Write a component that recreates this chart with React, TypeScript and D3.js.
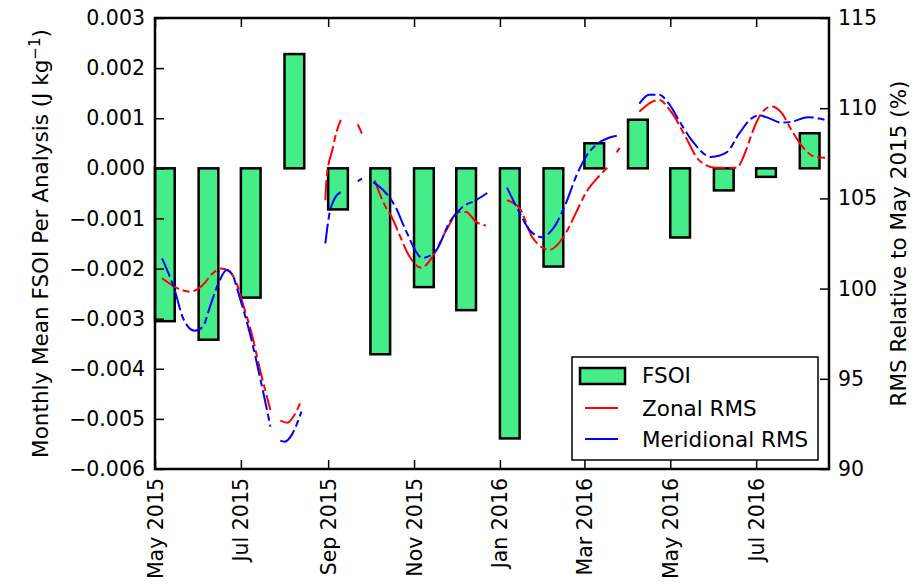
import * as d3 from 'd3';
import { useEffect, useRef } from 'react';

const MONTHS = [
    '2015-05', '2015-06', '2015-07', '2015-08', '2015-09', '2015-10', '2015-11', '2015-12',
    '2016-01', '2016-02', '2016-03', '2016-04', '2016-05', '2016-06', '2016-07', '2016-08',
];

const FSOI = [
    -0.00305, -0.00342, -0.00258, 0.00228, -0.00082, -0.00371, -0.00237, -0.00283,
    -0.00539, -0.00196, 0.0005, 0.00097, -0.00138, -0.00044, -0.00017, 0.0007,
];

// [date, RMS %]; null breaks the line where data is missing
const ZONAL_RMS: ([string, number] | null)[] = [
    ['2015-05-06', 100.57], ['2015-05-20', 99.92], ['2015-05-26', 99.83], ['2015-06-04', 100.2],
    ['2015-06-11', 100.85], ['2015-06-17', 101.12], ['2015-06-23', 100.94], ['2015-06-28', 100.29],
    ['2015-07-03', 99.0], ['2015-07-08', 97.71], ['2015-07-15', 95.38], ['2015-07-22', 93.27],
    null,
    ['2015-07-29', 92.68], ['2015-08-03', 92.57], ['2015-08-08', 92.99], ['2015-08-13', 93.82],
    null,
    ['2015-08-30', 104.9], ['2015-08-31', 106.2], ['2015-09-04', 107.7], ['2015-09-07', 108.7],
    ['2015-09-10', 109.35],
    null,
    ['2015-09-22', 109.1], ['2015-09-25', 108.6],
    null,
    ['2015-10-04', 106.0], ['2015-10-12', 104.5], ['2015-10-16', 104.0], ['2015-10-21', 103.1],
    ['2015-10-29', 101.75], ['2015-11-06', 101.15], ['2015-11-14', 101.75], ['2015-11-24', 103.25],
    ['2015-12-03', 104.25], ['2015-12-08', 104.25], ['2015-12-15', 103.7], ['2015-12-22', 103.5],
    null,
    ['2016-01-06', 104.9], ['2016-01-15', 104.45], ['2016-01-24', 102.85], ['2016-02-05', 102.15],
    ['2016-02-17', 103.1], ['2016-02-24', 104.2], ['2016-03-02', 105.3], ['2016-03-11', 106.2],
    ['2016-03-18', 106.75],
    null,
    ['2016-03-24', 107.55], ['2016-03-26', 107.8],
    null,
    ['2016-04-09', 109.8], ['2016-04-18', 110.35], ['2016-04-23', 110.45], ['2016-05-02', 109.75],
    ['2016-05-12', 108.4], ['2016-05-21', 107.15], ['2016-06-02', 106.7], ['2016-06-17', 106.7],
    ['2016-06-24', 107.7], ['2016-06-28', 108.6], ['2016-07-03', 109.5], ['2016-07-12', 110.1],
    ['2016-07-19', 109.75], ['2016-07-26', 108.8], ['2016-08-02', 107.95], ['2016-08-12', 107.3],
    ['2016-08-19', 107.25],
];

const MERIDIONAL_RMS: ([string, number] | null)[] = [
    ['2015-05-06', 101.68], ['2015-05-15', 99.92], ['2015-05-21', 98.35], ['2015-05-29', 97.67],
    ['2015-06-04', 97.89], ['2015-06-09', 98.99], ['2015-06-15', 100.29], ['2015-06-21', 101.03],
    ['2015-06-25', 100.75], ['2015-06-30', 99.55], ['2015-07-08', 97.33], ['2015-07-15', 94.93],
    ['2015-07-22', 92.35],
    null,
    ['2015-07-29', 91.57], ['2015-08-01', 91.51], ['2015-08-06', 91.88], ['2015-08-13', 93.18],
    null,
    ['2015-08-30', 102.5], ['2015-09-02', 104.2], ['2015-09-05', 104.9], ['2015-09-10', 105.35],
    null,
    ['2015-09-22', 105.95], ['2015-09-25', 106.1],
    null,
    ['2015-10-03', 105.9], ['2015-10-12', 105.3], ['2015-10-19', 104.5], ['2015-10-26', 103.25],
    ['2015-11-07', 101.7], ['2015-11-17', 102.15], ['2015-11-26', 103.65], ['2015-12-05', 104.5],
    ['2015-12-15', 104.9], ['2015-12-23', 105.3],
    null,
    ['2016-01-06', 105.6], ['2016-01-15', 104.2], ['2016-01-22', 103.25], ['2016-01-31', 102.85],
    ['2016-02-07', 103.25], ['2016-02-17', 104.75], ['2016-02-24', 106.2], ['2016-03-02', 107.3],
    ['2016-03-09', 107.95], ['2016-03-18', 108.35], ['2016-03-26', 108.5],
    null,
    ['2016-04-09', 110.25], ['2016-04-16', 110.75], ['2016-04-23', 110.75], ['2016-04-30', 110.25],
    ['2016-05-07', 109.35], ['2016-05-16', 108.25], ['2016-05-30', 107.3], ['2016-06-10', 107.55],
    ['2016-06-19', 108.6], ['2016-06-28', 109.45], ['2016-07-03', 109.6], ['2016-07-10', 109.45],
    ['2016-07-19', 109.2], ['2016-07-26', 109.25], ['2016-08-07', 109.5], ['2016-08-19', 109.35],
];

const LEFT_TICKS = [-0.006, -0.005, -0.004, -0.003, -0.002, -0.001, 0, 0.001, 0.002, 0.003];
const RIGHT_TICKS = [90, 95, 100, 105, 110, 115];
const X_TICKS = ['2015-05-01', '2015-07-01', '2015-09-01', '2015-11-01', '2016-01-01', '2016-03-01', '2016-05-01', '2016-07-01'];

const FONT = 'DejaVu Sans, Verdana, sans-serif';
const BAR_FILL = '#45ed89';

export default function App() {
    const svgRef = useRef(null);

    useEffect(() => {
        const svg = d3.select(svgRef.current);
        svg.selectAll('*').remove();

        const W = 917;
        const H = 586;
        const m = { left: 155, right: 829, top: 18, bottom: 469 };
        const parse = d3.timeParse('%Y-%m-%d');

        const x = d3
            .scaleTime()
            .domain([new Date(2015, 4, 1), new Date(2016, 7, 21, 18)])
            .range([m.left, m.right]);
        const yL = d3.scaleLinear().domain([-0.006, 0.003]).range([m.bottom, m.top]);
        const yR = d3.scaleLinear().domain([90, 115]).range([m.bottom, m.top]);

        svg.attr('width', W).attr('height', H).attr('font-family', FONT);

        // bars
        const bars = svg.append('g');
        MONTHS.forEach((mo, i) => {
            const d0 = parse(mo + '-01');
            const v = FSOI[i];
            bars.append('rect')
                .attr('x', x(d0))
                .attr('width', x(d3.timeDay.offset(d0, 14)) - x(d0))
                .attr('y', yL(Math.max(0, v)))
                .attr('height', Math.abs(yL(v) - yL(0)))
                .attr('fill', BAR_FILL)
                .attr('stroke', '#000')
                .attr('stroke-width', 2.5);
        });

        // RMS lines
        const line = d3
            .line<[string, number] | null>()
            .defined((d) => d !== null)
            .x((d) => x(parse(d![0])))
            .y((d) => yR(d![1]))
            .curve(d3.curveMonotoneX);

        const clip = svg.append('clipPath').attr('id', 'plot-clip');
        clip.append('rect').attr('x', m.left).attr('y', m.top).attr('width', m.right - m.left).attr('height', m.bottom - m.top);

        const lines = svg.append('g').attr('clip-path', 'url(#plot-clip)');
        lines.append('path')
            .attr('d', line(ZONAL_RMS))
            .attr('fill', 'none')
            .attr('stroke', '#ff0000')
            .attr('stroke-width', 2)
            .attr('stroke-dasharray', '20,4,7,4');
        lines.append('path')
            .attr('d', line(MERIDIONAL_RMS))
            .attr('fill', 'none')
            .attr('stroke', '#0000ff')
            .attr('stroke-width', 2)
            .attr('stroke-dasharray', '20,4,7,4');

        // axes (ticks pointing inward)
        const xTicks = X_TICKS.map((s) => parse(s));
        const styleAxis = (g) => {
            g.select('.domain').remove();
            g.selectAll('.tick line').attr('stroke', '#000').attr('stroke-width', 1.5);
            g.selectAll('.tick text').attr('fill', '#000');
        };

        svg.append('g')
            .attr('transform', `translate(0,${m.bottom})`)
            .call(d3.axisBottom(x).tickValues(xTicks).tickSize(-9).tickFormat(() => ''))
            .call(styleAxis);
        svg.append('g')
            .attr('transform', `translate(0,${m.top})`)
            .call(d3.axisTop(x).tickValues(xTicks).tickSize(-9).tickFormat(() => ''))
            .call(styleAxis);
        svg.append('g')
            .attr('transform', `translate(${m.left},0)`)
            .call(d3.axisLeft(yL).tickValues(LEFT_TICKS).tickSize(-9).tickPadding(10).tickFormat(d3.format('.3f')))
            .call(styleAxis)
            .call((g) => g.selectAll('.tick text').attr('font-size', 20.5).attr('font-family', FONT));
        svg.append('g')
            .attr('transform', `translate(${m.right},0)`)
            .call(d3.axisRight(yR).tickValues(RIGHT_TICKS).tickSize(-9).tickPadding(9))
            .call(styleAxis)
            .call((g) => g.selectAll('.tick text').attr('font-size', 20.5).attr('font-family', FONT));

        // rotated date labels
        const fmt = d3.timeFormat('%b %Y');
        xTicks.forEach((d) => {
            svg.append('text')
                .attr('transform', `translate(${x(d) + 7.5},${m.bottom + 9}) rotate(-90)`)
                .attr('text-anchor', 'end')
                .attr('font-size', 20.5)
                .text(fmt(d));
        });

        // frame
        svg.append('rect')
            .attr('x', m.left)
            .attr('y', m.top)
            .attr('width', m.right - m.left)
            .attr('height', m.bottom - m.top)
            .attr('fill', 'none')
            .attr('stroke', '#000')
            .attr('stroke-width', 2.5);

        // axis titles
        const lt = svg.append('text')
            .attr('transform', `translate(48,${(m.top + m.bottom) / 2}) rotate(-90)`)
            .attr('text-anchor', 'middle')
            .attr('font-size', 21.5);
        lt.append('tspan').text('Monthly Mean FSOI Per Analysis (J kg');
        lt.append('tspan').attr('dy', -8).attr('font-size', 15).text('\u22121');
        lt.append('tspan').attr('dy', 8).text(')');

        svg.append('text')
            .attr('transform', `translate(906,${(m.top + m.bottom) / 2}) rotate(-90)`)
            .attr('text-anchor', 'middle')
            .attr('font-size', 21.5)
            .text('RMS Relative to May 2015 (%)');

        // legend
        const lg = svg.append('g');
        lg.append('rect')
            .attr('x', 572).attr('y', 357).attr('width', 246).attr('height', 103)
            .attr('fill', '#fff').attr('stroke', '#000').attr('stroke-width', 1.5);
        lg.append('rect')
            .attr('x', 580).attr('y', 368).attr('width', 45).attr('height', 16)
            .attr('fill', BAR_FILL).attr('stroke', '#000').attr('stroke-width', 2.5);
        const items = [
            { label: 'Zonal RMS', color: '#ff0000', y: 408 },
            { label: 'Meridional RMS', color: '#0000ff', y: 439 },
        ];
        lg.append('text').attr('x', 642).attr('y', 383).attr('font-size', 21.5).text('FSOI');
        items.forEach((it) => {
            lg.append('line')
                .attr('x1', 585).attr('x2', 618).attr('y1', it.y).attr('y2', it.y)
                .attr('stroke', it.color).attr('stroke-width', 2);
            lg.append('text').attr('x', 642).attr('y', it.y + 7.5).attr('font-size', 21.5).text(it.label);
        });
    }, []);

    return (
        <svg
            ref={svgRef}
            style={{ position: 'absolute', left: 0, top: 0, display: 'block', background: '#fff' }}
        />
    );
}
